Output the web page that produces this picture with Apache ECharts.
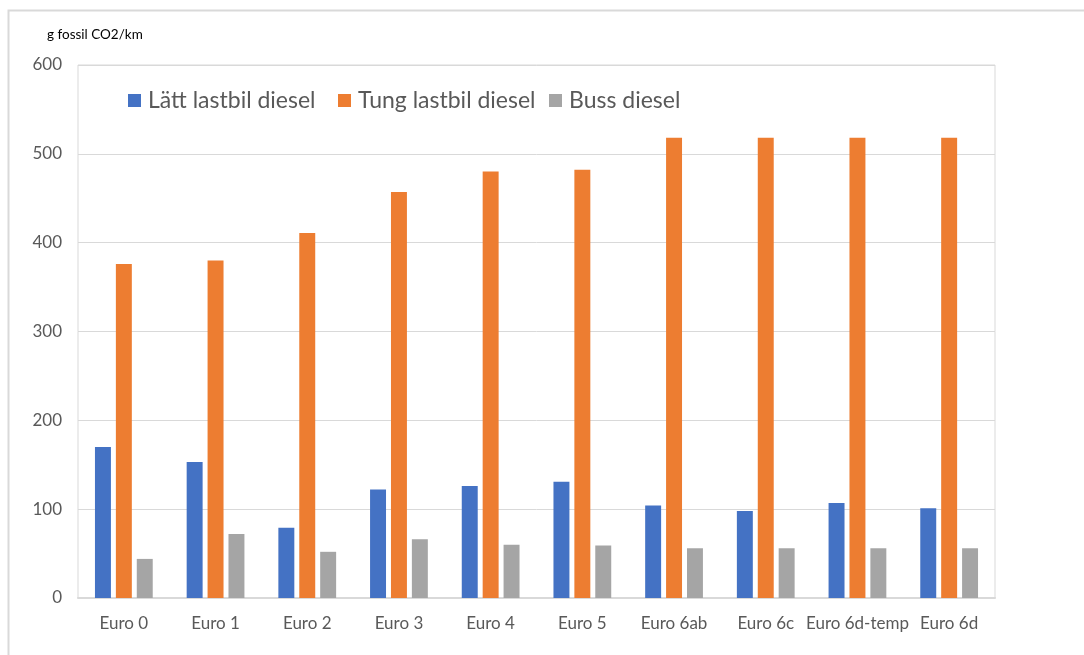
<!DOCTYPE html>
<html>
<head>
<meta charset="utf-8">
<script src="https://cdn.jsdelivr.net/npm/echarts@6/dist/echarts.min.js"></script>
<style>
  html, body { margin: 0; padding: 0; background: #fff; }
  #chart { width: 1084px; height: 655px; }
</style>
</head>
<body>
<div id="chart"></div>
<script>
// Fossil CO2 emissions per km by Euro emission class
const categories = ['Euro 0', 'Euro 1', 'Euro 2', 'Euro 3', 'Euro 4', 'Euro 5', 'Euro 6ab', 'Euro 6c', 'Euro 6d-temp', 'Euro 6d'];
const seriesNames = ['Lätt lastbil diesel', 'Tung lastbil diesel', 'Buss diesel'];
const lightTruck = [170, 153, 79, 122, 126, 131, 104, 98, 107, 101];
const heavyTruck = [376, 380, 411, 457, 480, 482, 518, 518, 518, 518];
const bus = [44, 72, 52, 66, 60, 59, 56, 56, 56, 56];
const yTicks = [0, 100, 200, 300, 400, 500, 600];

const colors = ['#4472c4', '#ed7d31', '#a5a5a5'];
const font = 'Lato, "Open Sans", sans-serif';
const textColor = '#595959';

const chart = echarts.init(document.getElementById('chart'), null, { renderer: 'canvas' });

// legend entries sit side by side in one row above the bars
const legendLefts = [128, 338, 549];

chart.setOption({
  animation: false,
  backgroundColor: '#fff',
  color: colors,
  grid: {
    left: 78, right: 89, top: 65, bottom: 57,
    show: true, borderColor: '#d9d9d9', borderWidth: 1, backgroundColor: 'transparent'
  },
  legend: seriesNames.map((name, i) => ({
    data: [name],
    left: legendLefts[i],
    top: 89,
    padding: 0,
    icon: 'rect',
    itemWidth: 13,
    itemHeight: 13,
    textStyle: { fontFamily: font, fontSize: 23, color: textColor, padding: [0, 0, 0, 2] }
  })),
  graphic: [
    {
      type: 'polyline',
      shape: { points: [[8.5, 655], [8.5, 10.5], [1084, 10.5]] },
      style: { stroke: '#d9d9d9', lineWidth: 2, fill: null },
      silent: true
    },
    {
      type: 'text',
      left: 47, top: 28,
      style: { text: 'g fossil CO2/km', font: '13.5px ' + font, fill: '#000' }
    }
  ],
  xAxis: {
    type: 'category',
    data: categories,
    axisLine: { lineStyle: { color: '#d9d9d9', width: 2 } },
    axisTick: { show: false },
    axisLabel: { fontFamily: font, fontSize: 17, color: textColor, margin: 17, interval: 0 }
  },
  yAxis: {
    type: 'value',
    min: yTicks[0],
    max: yTicks[yTicks.length - 1],
    interval: 100,
    axisLine: { show: false },
    axisTick: { show: false },
    axisLabel: { fontFamily: font, fontSize: 17, color: textColor, margin: 16 },
    splitLine: { lineStyle: { color: '#d9d9d9', width: 1 } }
  },
  series: [lightTruck, heavyTruck, bus].map((values, i) => ({
    name: seriesNames[i],
    type: 'bar',
    data: values,
    barGap: '31%',
    barCategoryGap: '37%',
    itemStyle: { color: colors[i] }
  }))
});
</script>
</body>
</html>
